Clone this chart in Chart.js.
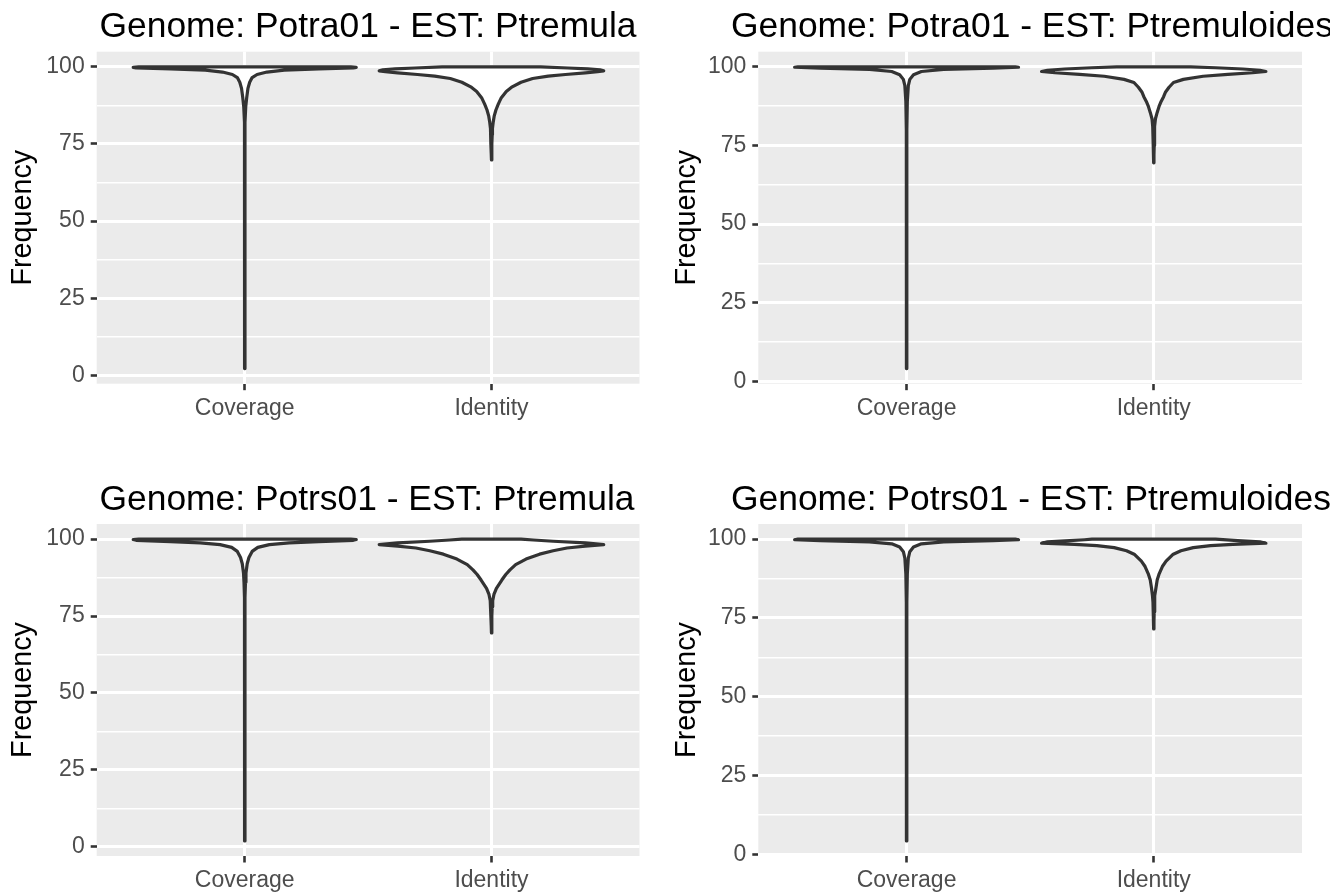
<!DOCTYPE html>
<html>
<head>
<meta charset="utf-8">
<script src="https://cdn.jsdelivr.net/npm/chart.js@4.4.0/dist/chart.umd.min.js"></script>
<style>
  html, body { margin: 0; padding: 0; background: #fff; }
  #wrap { position: relative; width: 1330px; height: 894px; overflow: hidden; }
  #wrap canvas { position: absolute; }
</style>
</head>
<body>
<div id="wrap">
  <canvas id="p1" width="665" height="447" style="left:0;top:0"></canvas>
  <canvas id="p2" width="665" height="447" style="left:665px;top:0"></canvas>
  <canvas id="p3" width="665" height="447" style="left:0;top:447px"></canvas>
  <canvas id="p4" width="665" height="447" style="left:665px;top:447px"></canvas>
</div>
<script>
const categories = ['Coverage', 'Identity'];
const yTicks = [0, 25, 50, 75, 100];
const yMinorTicks = [12.5, 37.5, 62.5, 87.5];
const titles = [
    'Genome: Potra01 - EST: Ptremula',
    'Genome: Potra01 - EST: Ptremuloides',
    'Genome: Potrs01 - EST: Ptremula',
    'Genome: Potrs01 - EST: Ptremuloides'
];

// violin outlines: value levels and half widths (category units)
const p1CoverageY = [2.2, 10, 30, 50, 70, 82, 87, 90, 93, 95, 96.5, 97.5, 98.3, 98.9, 99.3, 99.6, 99.8, 100];
const p1CoverageW = [0.001, 0.001, 0.001, 0.001, 0.001, 0.001, 0.004, 0.008, 0.013, 0.02, 0.03, 0.05, 0.09, 0.16, 0.3, 0.44, 0.452, 0.43];
const p1IdentityY = [69.8, 72, 75, 78, 80, 82, 84, 86, 88, 90, 92, 93.5, 95, 96.2, 97, 97.5, 98, 98.4, 98.7, 99, 99.3, 99.6, 100];
const p1IdentityW = [0.001, 0.001, 0.002, 0.003, 0.004, 0.007, 0.011, 0.018, 0.028, 0.04, 0.06, 0.084, 0.12, 0.167, 0.23, 0.3, 0.38, 0.43, 0.455, 0.44, 0.39, 0.31, 0.2];

const p2CoverageY = [4.1, 20, 40, 60, 80, 89, 94, 96, 97.5, 98.5, 99.2, 99.6, 99.85, 100];
const p2CoverageW = [0.001, 0.001, 0.001, 0.001, 0.001, 0.003, 0.007, 0.013, 0.028, 0.06, 0.15, 0.35, 0.453, 0.44];
const p2IdentityY = [69.5, 72, 75, 78, 81, 83.5, 85.5, 87.5, 89, 90.5, 92, 93.5, 95, 96, 97, 97.6, 98.1, 98.5, 98.9, 99.3, 99.7, 100];
const p2IdentityW = [0.001, 0.001, 0.002, 0.003, 0.004, 0.007, 0.014, 0.022, 0.03, 0.04, 0.048, 0.062, 0.08, 0.12, 0.2, 0.3, 0.4, 0.454, 0.43, 0.36, 0.25, 0.15];

const p3CoverageY = [1.9, 10, 30, 50, 70, 81, 86, 89, 92, 94, 96, 97.3, 98.2, 98.8, 99.2, 99.6, 99.85, 100];
const p3CoverageW = [0.001, 0.001, 0.001, 0.001, 0.001, 0.001, 0.003, 0.005, 0.01, 0.017, 0.03, 0.053, 0.1, 0.18, 0.3, 0.44, 0.452, 0.43];
const p3IdentityY = [69.5, 72, 75, 78, 80, 82, 84, 86.7, 88.5, 90, 91.7, 93.5, 95.1, 96.2, 97.1, 97.7, 98.2, 98.8, 99.3, 99.7, 100];
const p3IdentityW = [0.001, 0.001, 0.002, 0.003, 0.005, 0.01, 0.02, 0.042, 0.058, 0.075, 0.098, 0.14, 0.195, 0.25, 0.306, 0.38, 0.455, 0.38, 0.25, 0.17, 0.12];

const p4CoverageY = [4.3, 20, 40, 60, 80, 89, 94, 96, 97.5, 98.5, 99.1, 99.5, 99.8, 100];
const p4CoverageW = [0.001, 0.001, 0.001, 0.001, 0.001, 0.003, 0.007, 0.013, 0.028, 0.06, 0.15, 0.35, 0.453, 0.44];
const p4IdentityY = [71.5, 74, 77, 80, 82, 84.5, 87, 89, 91.3, 93, 95.1, 96.3, 97.3, 97.9, 98.3, 98.7, 99.1, 99.5, 99.8, 100];
const p4IdentityW = [0.001, 0.001, 0.002, 0.003, 0.005, 0.009, 0.014, 0.022, 0.035, 0.05, 0.077, 0.11, 0.16, 0.23, 0.32, 0.454, 0.43, 0.34, 0.28, 0.25];

const FONT = '"Liberation Sans", Arial, sans-serif';

// where each panel's grey area sits inside its 665x447 canvas
const layouts = [
    { left: 96.7, top: 51.7, right: 639.5, bottom: 383.7, titleX: 99.5, titleY: 37, yTitlePad: 6 },
    { left: 93.3, top: 51.7, right: 637, bottom: 383.7, titleX: 66, titleY: 37, yTitlePad: 5 },
    { left: 96.7, top: 77, right: 639.5, bottom: 409, titleX: 99.5, titleY: 62.5, yTitlePad: 6 },
    { left: 93.3, top: 77, right: 637, bottom: 409, titleX: 66, titleY: 62.5, yTitlePad: 5 }
];

const panelBackground = {
    id: 'panelBackground',
    beforeDraw(chart) {
        const { ctx, chartArea: a } = chart;
        ctx.save();
        ctx.fillStyle = '#EBEBEB';
        ctx.fillRect(a.left, a.top, a.right - a.left, a.bottom - a.top);
        ctx.restore();
    }
};

// ggplot style title, left aligned, may run off the canvas
const panelTitle = {
    id: 'panelTitle',
    afterDraw(chart, args, opts) {
        const ctx = chart.ctx;
        ctx.save();
        ctx.font = '35.4px ' + FONT;
        ctx.fillStyle = '#000';
        ctx.textBaseline = 'alphabetic';
        ctx.textAlign = 'left';
        ctx.fillText(opts.text, opts.x, opts.y);
        ctx.restore();
    }
};

const violin = (center, ys, ws) => {
    const right = ys.map((y, i) => ({ x: center + ws[i], y }));
    const left = ys.map((y, i) => ({ x: center - ws[i], y })).reverse();
    return [...right, ...left, right[0]];
};

const makePanel = (id, idx, covY, covW, idY, idW) => {
    const L = layouts[idx];
    const lo = Math.min(covY[0], idY[0]);
    const hi = 100;
    const pad = (hi - lo) * 0.05;
    const violinStyle = {
        borderColor: '#333333', borderWidth: 3.2, backgroundColor: '#ffffff',
        fill: 'shape', pointRadius: 0, tension: 0,
        borderJoinStyle: 'round', borderCapStyle: 'round'
    };
    const isMajor = v => yTicks.includes(v);

    new Chart(document.getElementById(id), {
        type: 'line',
        data: {
            datasets: [
                { ...violinStyle, label: categories[0], data: violin(1, covY, covW) },
                { ...violinStyle, label: categories[1], data: violin(2, idY, idW) }
            ]
        },
        plugins: [panelBackground, panelTitle],
        options: {
            responsive: false, animation: false,
            layout: { autoPadding: false, padding: { left: 0, top: L.top, right: 665 - L.right, bottom: 0 } },
            plugins: {
                legend: { display: false }, tooltip: { enabled: false },
                panelTitle: { text: titles[idx], x: L.titleX, y: L.titleY }
            },
            scales: {
                x: {
                    type: 'linear', min: 0.4, max: 2.6,
                    afterBuildTicks: s => { s.ticks = [{ value: 1 }, { value: 2 }]; },
                    afterFit: s => { s.height = 447 - L.bottom; s.paddingLeft = 0; s.paddingRight = 0; },
                    border: { display: false },
                    grid: { color: '#ffffff', lineWidth: 3, tickLength: 6.5, tickColor: '#333333', tickWidth: 2.6 },
                    ticks: {
                        color: '#4D4D4D', font: { family: FONT, size: 23 }, padding: 4.5,
                        maxRotation: 0, callback: v => categories[v - 1]
                    }
                },
                y: {
                    type: 'linear', min: lo - pad, max: hi + pad,
                    afterBuildTicks: s => {
                        s.ticks = [...yTicks, ...yMinorTicks].sort((a, b) => a - b).map(v => ({ value: v }));
                    },
                    afterFit: s => { s.width = L.left; s.paddingTop = 0; s.paddingBottom = 0; },
                    border: { display: false },
                    grid: {
                        color: '#ffffff',
                        lineWidth: c => isMajor(c.tick.value) ? 3 : 1.5,
                        tickLength: 6,
                        tickColor: c => isMajor(c.tick.value) ? '#333333' : 'rgba(0,0,0,0)',
                        tickWidth: 2.6
                    },
                    ticks: {
                        color: '#4D4D4D', font: { family: FONT, size: 23 }, padding: 6,
                        callback: v => isMajor(v) ? String(v) : ''
                    },
                    title: {
                        display: true, text: 'Frequency', color: '#000000',
                        font: { family: FONT, size: 28.75, lineHeight: 1.2 },
                        padding: { top: L.yTitlePad, bottom: 0 }
                    }
                }
            }
        }
    });
};

makePanel('p1', 0, p1CoverageY, p1CoverageW, p1IdentityY, p1IdentityW);
makePanel('p2', 1, p2CoverageY, p2CoverageW, p2IdentityY, p2IdentityW);
makePanel('p3', 2, p3CoverageY, p3CoverageW, p3IdentityY, p3IdentityW);
makePanel('p4', 3, p4CoverageY, p4CoverageW, p4IdentityY, p4IdentityW);
</script>
</body>
</html>
